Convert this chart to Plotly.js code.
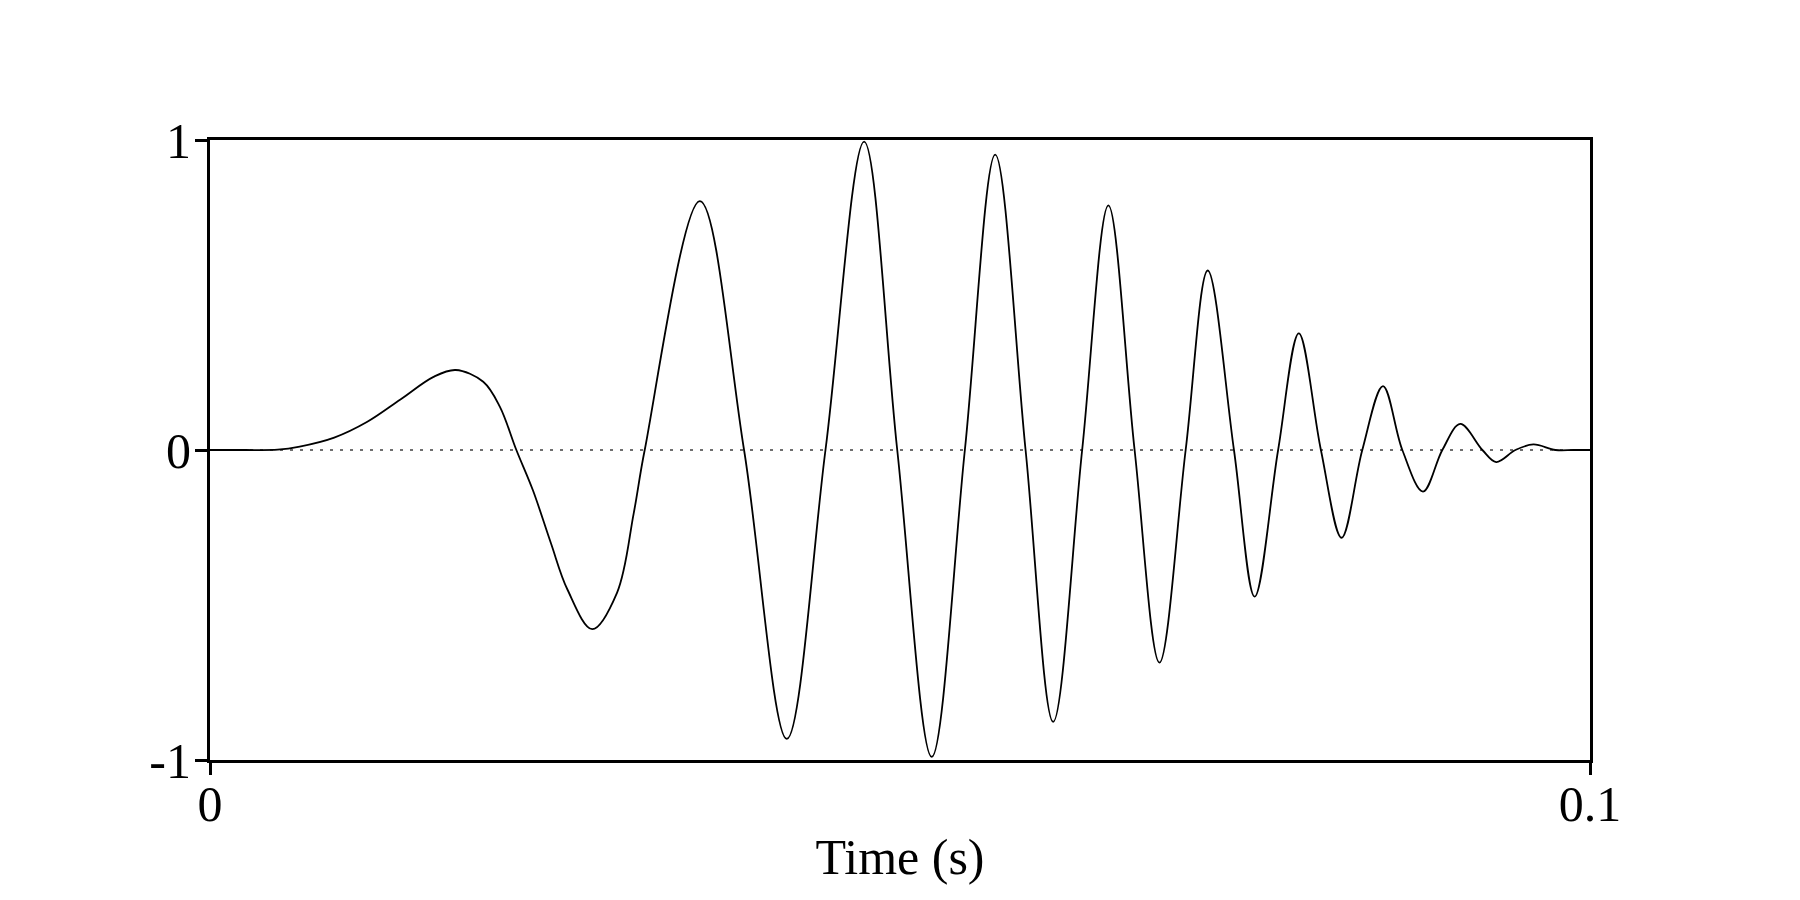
<!DOCTYPE html>
<html>
<head>
<meta charset="utf-8">
<script src="https://cdn.plot.ly/plotly-3.0.1.min.js"></script>
<style>
  html, body { margin: 0; padding: 0; background: #ffffff; }
  #chart { width: 1800px; height: 900px; }
</style>
</head>
<body>
<div id="chart"></div>
<script>
// Time (s) of points (extremes, zero crossings, some shoulders)
const timeS = [
  0.0000, 0.0025, 0.0049, 0.0065, 0.0090, 0.0114, 0.0138, 0.0162, 0.0178, 0.0198, 0.0210,
  0.0222, 0.0234, 0.0247, 0.0259, 0.0277, 0.0295, 0.0307, 0.0315,
  0.0355, 0.0387, 0.0418, 0.0446, 0.0474, 0.0498, 0.0523, 0.0547,
  0.0569, 0.0591, 0.0611, 0.0632, 0.0651, 0.0670, 0.0688, 0.0707,
  0.0723, 0.0742, 0.0757, 0.0774, 0.0789, 0.0805, 0.0820, 0.0835,
  0.0850, 0.0864, 0.0879, 0.0893, 0.0906, 0.0922, 0.0932, 0.0946,
  0.0959, 0.0975, 0.0988, 0.1000
];
// Amplitude at those times
const amplitude = [
  0.000, 0.000, 0.001, 0.011, 0.040, 0.091, 0.163, 0.236, 0.258, 0.220, 0.140,
  0.000, -0.130, -0.300, -0.450, -0.578, -0.460, -0.205, 0.000,
  0.803, 0.000, -0.932, 0.000, 0.995, 0.000, -0.990, 0.000,
  0.953, 0.000, -0.877, 0.000, 0.789, 0.000, -0.686, 0.000,
  0.579, 0.000, -0.473, 0.000, 0.376, 0.000, -0.283, 0.000,
  0.206, 0.000, -0.134, 0.000, 0.084, 0.000, -0.039, 0.000,
  0.018, 0.000, 0.000, 0.000
];
const xTickVals = [0, 0.1];
const xTickText = ["0", "0.1"];
const yTickVals = [-1, 0, 1];
const yTickText = ["-1", "0", "1"];
const xTitle = "Time (s)";

const serif = "Liberation Serif, Times New Roman, serif";

const traces = [
  {
    x: [0, 0.1], y: [0, 0],
    mode: "lines", type: "scatter",
    line: { color: "#6e6e6e", width: 2, dash: "3px,7px" },
    hoverinfo: "skip", showlegend: false
  },
  {
    x: timeS, y: amplitude,
    mode: "lines", type: "scatter",
    line: { color: "#000000", width: 1.8, shape: "spline", smoothing: 1.0 },
    showlegend: false
  }
];

const axisCommon = {
  showgrid: false, zeroline: false,
  showline: true, mirror: true, linecolor: "#000000", linewidth: 3,
  ticks: "outside", ticklen: 12, tickwidth: 3, tickcolor: "#000000",
  tickfont: { family: serif, size: 50, color: "#000000" },
  tickmode: "array", fixedrange: true
};

const layout = {
  width: 1800, height: 900,
  paper_bgcolor: "#ffffff", plot_bgcolor: "#ffffff",
  margin: { l: 210, r: 210, t: 140, b: 140, pad: 0 },
  showlegend: false,
  xaxis: Object.assign({}, axisCommon, {
    range: [0, 0.1], tickvals: xTickVals, ticktext: xTickText,
    ticklabelstandoff: -14,
    title: { text: xTitle, font: { family: serif, size: 50, color: "#000000" }, standoff: 8 }
  }),
  yaxis: Object.assign({}, axisCommon, {
    range: [-1, 1], tickvals: yTickVals, ticktext: yTickText,
    ticklabelstandoff: -6
  })
};

Plotly.newPlot("chart", traces, layout, { displayModeBar: false, staticPlot: true });
</script>
</body>
</html>
